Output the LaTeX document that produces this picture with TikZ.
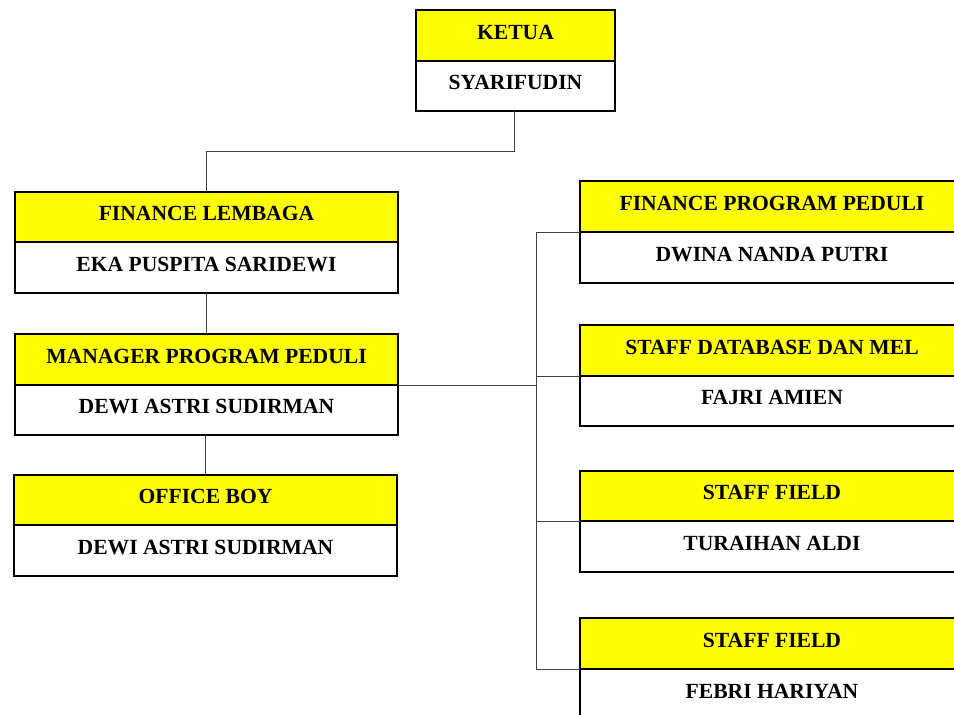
\documentclass[tikz,border=0pt]{standalone}
\usepackage{fontspec}
\setmainfont{Liberation Serif}
\definecolor{hdryellow}{RGB}{255,255,0}
\begin{document}
\begin{tikzpicture}[x=1pt,y=-1pt,
  cell/.style={draw=black,line width=2pt,rectangle,inner sep=0pt,outer sep=0pt,
    font=\fontsize{21.6}{24}\selectfont\bfseries,text height=14pt,text depth=6.5pt},
  hdr/.style={cell,fill=hdryellow},
  nm/.style={cell,fill=white},
  conn/.style={draw=black!75,line width=1pt}]
\useasboundingbox (0,0) rectangle (954,715);
\clip (0,0) rectangle (954,715);
\coordinate (bt) at (536,232);
\coordinate (bb) at (536,669);
\coordinate (kbend) at (514,151);
% KETUA
\node[hdr,minimum width=199pt,minimum height=51pt] (k1) at (515.5,35.5) {KETUA};
\node[nm,minimum width=199pt,minimum height=50pt] (k2) at (515.5,86) {SYARIFUDIN};
% left column
\node[hdr,minimum width=383pt,minimum height=50pt] (fl1) at (206.5,217) {FINANCE LEMBAGA};
\node[nm,minimum width=383pt,minimum height=51pt] (fl2) at (206.5,267.5) {EKA PUSPITA SARIDEWI};
\node[hdr,minimum width=383pt,minimum height=51pt] (mg1) at (206.5,359.5) {MANAGER PROGRAM PEDULI};
\node[nm,minimum width=383pt,minimum height=50pt] (mg2) at (206.5,410) {DEWI ASTRI SUDIRMAN};
\node[hdr,minimum width=383pt,minimum height=50pt] (ob1) at (205.5,500) {OFFICE BOY};
\node[nm,minimum width=383pt,minimum height=51pt] (ob2) at (205.5,550.5) {DEWI ASTRI SUDIRMAN};
% right column
\node[hdr,minimum width=384pt,minimum height=51pt] (fp1) at (772,206.5) {FINANCE PROGRAM PEDULI};
\node[nm,minimum width=384pt,minimum height=51pt] (fp2) at (772,257.5) {DWINA NANDA PUTRI};
\node[hdr,minimum width=384pt,minimum height=51pt] (sd1) at (772,350.5) {STAFF DATABASE DAN MEL};
\node[nm,minimum width=384pt,minimum height=50pt] (sd2) at (772,401) {FAJRI AMIEN};
\node[hdr,minimum width=384pt,minimum height=50pt] (sa1) at (772,496) {STAFF FIELD};
\node[nm,minimum width=384pt,minimum height=51pt] (sa2) at (772,546.5) {TURAIHAN ALDI};
\node[hdr,minimum width=384pt,minimum height=51pt] (sb1) at (772,643.5) {STAFF FIELD};
\node[nm,minimum width=384pt,minimum height=51pt] (sb2) at (772,694.5) {FEBRI HARIYAN};
% connector lines
\draw[conn] (k2.south -| kbend) -- (kbend) -| (fl1.north);
\draw[conn] (fl2.south) -- (mg1.north);
\draw[conn] (mg2.south -| ob1.north) -- (ob1.north);
\draw[conn] (mg1.south east) -- (mg1.south east -| bt);
\draw[conn] (bt) -- (bb);
\draw[conn] (fp1.south west) -- (fp1.south west -| bt);
\draw[conn] (sd1.south west) -- (sd1.south west -| bt);
\draw[conn] (sa1.south west) -- (sa1.south west -| bt);
\draw[conn] (sb1.south west) -- (sb1.south west -| bt);
\end{tikzpicture}
\end{document}
